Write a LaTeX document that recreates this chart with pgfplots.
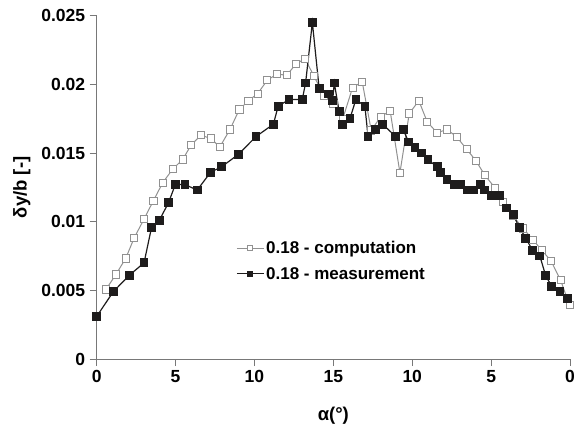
\documentclass[border=0pt]{standalone}
\usepackage{fontspec}
\setmainfont{Liberation Sans}
\usepackage{pgfplots}
\pgfplotsset{compat=1.18}
\definecolor{compgray}{RGB}{145,145,145}
\definecolor{measblack}{RGB}{30,28,28}
\definecolor{axgray}{RGB}{120,120,120}
\begin{document}
\begin{tikzpicture}
\begin{axis}[
  name=ax,
  scale only axis,
  width=473.3pt, height=343.3pt,
  xmin=0, xmax=30, ymin=0, ymax=0.025,
  axis x line*=bottom, axis y line*=left,
  axis line style={axgray, line width=0.8pt},
  tick style={axgray, line width=0.8pt},
  tick align=outside,
  major tick length=7pt,
  xtick={0,5,10,15,20,25,30},
  xticklabels={0,5,10,15,10,5,0},
  ytick={0,0.005,0.01,0.015,0.02,0.025},
  yticklabels={0,0.005,0.01,0.015,0.02,0.025},
  scaled y ticks=false,
  ticklabel style={font=\bfseries\fontsize{17.5}{19}\selectfont, text=black},
  xticklabel style={yshift=-1pt},
  yticklabel style={xshift=-1pt},
  xlabel={\bfseries\fontsize{18.5}{20}\selectfont α(°)},
  ylabel={\bfseries\fontsize{18.5}{20}\selectfont δy/b [-]},
  xlabel style={yshift=-17pt},
  ylabel style={yshift=4pt},
  clip=false,
  legend style={draw=none, fill=none, at={(0.288,0.355)}, anchor=north west,
    font=\bfseries\fontsize{17}{19}\selectfont, row sep=8pt,
    /tikz/every odd column/.append style={column sep=0pt}},
  legend cell align=left,
  legend image code/.code={\draw[mark repeat=2,mark phase=2, mark size=2.4pt] plot coordinates {(0cm,0cm)(0.47cm,0cm)(0.94cm,0cm)};},
]
\addplot[compgray, line width=1pt, mark=square*, mark size=3.6pt,
  mark options={fill=white, draw=compgray, line width=0.8pt}] coordinates {
(0.59,0.00507)(1.22,0.00616)(1.84,0.00733)(2.38,0.00883)(3.00,0.01019)
(3.59,0.01152)(4.18,0.01283)(4.82,0.01383)(5.45,0.01453)(5.98,0.01557)
(6.61,0.0163)(7.22,0.01606)(7.81,0.01545)(8.45,0.01672)(9.04,0.01817)
(9.61,0.0188)(10.2,0.01932)(10.81,0.0203)(11.41,0.02074)(12.04,0.02067)
(12.63,0.02147)(13.2,0.02188)(13.77,0.0206)(14.4,0.01918)(15.0,0.0186)
(15.6,0.01750)(16.22,0.01977)(16.83,0.02018)(17.4,0.01665)(18.0,0.01764)
(18.6,0.01807)(19.22,0.01356)(19.81,0.01788)(20.42,0.0188)(20.95,0.01727)
(21.58,0.01647)(22.2,0.01672)(22.81,0.01618)(23.45,0.01528)(24.04,0.01443)
(24.6,0.01339)(25.24,0.01247)(25.77,0.01145)(26.4,0.0104)(27.03,0.00951)
(27.67,0.00866)(28.2,0.00793)(28.79,0.00716)(29.4,0.00575)(29.97,0.00393)
};
\addlegendentry{0.18 - computation}
\addplot[measblack, line width=1.2pt, mark=square*, mark size=3.8pt,
  mark options={fill=measblack, draw=measblack}] coordinates {
(0,0.0031)(1.05,0.0049)(2.07,0.0061)(3.0,0.0070)(3.48,0.0096)(3.97,0.0101)
(4.56,0.0114)(4.98,0.0127)(5.6,0.0127)(6.37,0.0123)(7.22,0.0136)(7.92,0.0140)
(8.98,0.0149)(10.1,0.0162)(11.2,0.0171)(11.5,0.0184)(12.19,0.0189)(13.03,0.0189)
(13.24,0.0201)(13.67,0.0245)(14.1,0.0197)(14.68,0.0193)(14.95,0.0188)(15.06,0.0201)
(15.37,0.0180)(15.59,0.0171)(16.05,0.0175)(16.43,0.0189)(17.0,0.0184)(17.2,0.0162)
(17.68,0.0167)(18.12,0.0171)(18.95,0.0162)(19.43,0.0167)(19.77,0.0158)(20.17,0.0154)
(20.6,0.0150)(21.0,0.0145)(21.58,0.0140)(21.8,0.0136)(22.2,0.0131)(22.7,0.0127)
(23.06,0.0127)(23.49,0.0123)(23.87,0.0123)(24.33,0.0127)(24.6,0.0123)(25.03,0.0119)
(25.56,0.0119)(25.96,0.0110)(26.4,0.0105)(26.78,0.0096)(27.2,0.0088)(27.63,0.0079)
(28.09,0.0075)(28.45,0.0061)(28.83,0.0053)(29.36,0.0049)(29.82,0.0044)
};
\addlegendentry{0.18 - measurement}
\end{axis}
\pgfresetboundingbox
\path ([shift={(-96.7pt,-68pt)}]ax.south west) rectangle ([shift={(7pt,15.7pt)}]ax.north east);
\end{tikzpicture}
\end{document}
